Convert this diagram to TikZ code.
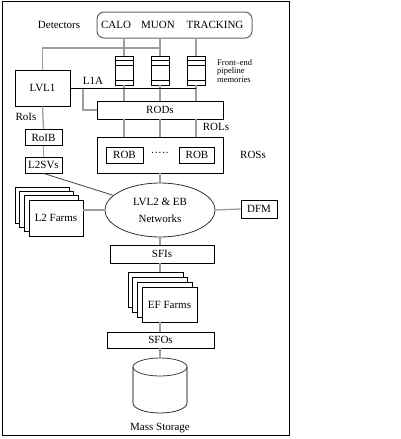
\documentclass[tikz,border=0pt]{standalone}
\usepackage{fontspec}
\setmainfont{Liberation Serif}
\usetikzlibrary{shapes.geometric,calc}
\begin{document}
\begin{tikzpicture}[x=1pt,y=-1pt,
  box/.style={draw=black,line width=0.8pt,fill=white,inner sep=0pt,font=\fontsize{11}{12}\selectfont},
  glink/.style={draw=black!38,line width=1.3pt},
  blink/.style={draw=black,line width=0.8pt},
  lbl/.style={inner sep=0pt,font=\fontsize{11}{12}\selectfont},
  memo/.style={draw=black,line width=0.8pt,fill=white,minimum width=18pt,minimum height=29pt,inner sep=0pt}]
\useasboundingbox (0,0) rectangle (400,439);
\draw[line width=1pt] (2.5,1.5) rectangle (289.5,435.5);

% detectors
\node[draw=black!60,line width=1pt,rounded corners=7pt,minimum width=155pt,minimum height=26pt,inner sep=0pt] (det) at (174.5,25) {};
\node[lbl] (calo) at (116,25) {CALO};
\node[lbl] (muon) at (158,25) {MUON};
\node[lbl] (trk) at (215,25) {TRACKING};
\node[lbl] (detl) at (59,25) {Detectors};

% pipeline memories
\node[memo] (mem1) at (124,70.5) {};
\node[memo] (mem2) at (160,70.5) {};
\node[memo] (mem3) at (196,70.5) {};
\node[inner sep=0pt,anchor=west,align=left,font=\fontsize{8.5}{8.5}\selectfont] (fel) at (217,71) {Front–end\\pipeline\\memories};

% boxes
\node[box,minimum width=55pt,minimum height=36pt] (lvl1) at (42.5,88) {LVL1};
\node[box,minimum width=126pt,minimum height=18pt] (rods) at (160,110) {RODs};
\node[box,minimum width=126pt,minimum height=36pt] (ros) at (160,155) {};
\node[box,minimum width=37pt,minimum height=16pt] (rob1) at (124.5,155) {ROB};
\node[box,minimum width=35pt,minimum height=16pt] (rob2) at (197,155) {ROB};
\node[lbl] (dots) at (160,154) {·····};
\node[box,minimum width=37pt,minimum height=16pt] (roib) at (43.5,137.5) {RoIB};
\node[box,minimum width=37pt,minimum height=16pt] (l2sv) at (43.5,165) {L2SVs};
\node[draw=black!80,line width=0.8pt,ellipse,minimum width=110pt,minimum height=54pt,inner sep=0pt,align=center,font=\fontsize{11}{12}\selectfont] (net) at (160,210) {LVL2 \& EB\\[5pt]Networks};
\node[box,minimum width=36pt,minimum height=18pt] (dfm) at (259,209) {DFM};

% L2 farms stack
\node[box,minimum width=54pt,minimum height=36pt] (l2c) at (42,205) {};
\node[box,minimum width=54pt,minimum height=36pt] (l2b) at (46.7,209.3) {};
\node[box,minimum width=54pt,minimum height=36pt] (l2a) at (51.3,213.7) {};
\node[box,minimum width=54pt,minimum height=36pt] (l2f) at (56,218) {L2 Farms};

\node[box,minimum width=104pt,minimum height=18pt] (sfis) at (162,254) {SFIs};

% EF farms stack
\node[box,minimum width=55pt,minimum height=35pt] (efc) at (155.5,289.5) {};
\node[box,minimum width=55pt,minimum height=35pt] (efb) at (160.2,294.5) {};
\node[box,minimum width=55pt,minimum height=35pt] (efa) at (164.8,299.5) {};
\node[box,minimum width=55pt,minimum height=35pt] (eff) at (169.5,304.5) {EF Farms};

\node[box,minimum width=107pt,minimum height=16pt] (sfos) at (160.5,340) {SFOs};

% labels
\node[lbl] (l1al) at (93,81) {L1A};
\node[lbl] (roisl) at (26,117) {RoIs};
\node[lbl] (rolsl) at (216,127) {ROLs};
\node[lbl] (rossl) at (253,155) {ROSs};
\node[lbl] (msl) at (160,428) {Mass Storage};

% mass storage cylinder
\coordinate (stor) at (160,358);
\draw[black!38,line width=1.3pt] (133,367) -- (133,403) (187,367) -- (187,403);
\draw[black!75,line width=0.8pt] (160,367) ellipse [x radius=27pt,y radius=9pt];
\draw[black!80,line width=0.8pt] (133,403) arc[start angle=180,end angle=360,x radius=27pt,y radius=10pt];

% gray links
\foreach \m in {mem1,mem2,mem3}{
  \draw[glink] (\m.north) -- (\m.north |- det.south);
  \draw[glink] (\m.south) -- (\m.south |- rods.north);
  \draw[glink] (\m.south |- rods.south) -- (\m.south |- ros.north);
}
\coordinate (lvtop) at (160,48);
\draw[glink] (lvl1.north) |- (lvtop);
\coordinate (br) at (83,88);
\draw[glink] (br) |- (rods.west);
\draw[glink] (lvl1.south) -- (roib.north);
\draw[glink] (roib.south) -- (l2sv.north);
\draw[glink] (ros.south -| net.north) -- (net.north);
\draw[glink] (net.east) -- (dfm.west);
\draw[glink] (net.west) -- (net.west -| l2f.east);
\draw[glink] (net.south) -- (net.south |- sfis.north);
\draw[glink] (sfis.south -| net.south) -- (net.south |- efc.north);
\draw[glink] (eff.south -| net.south) -- (net.south |- sfos.north);
\draw[glink] (sfos.south -| stor) -- (stor);

% memory inner lines
\foreach \m in {mem1,mem2,mem3}{
  \draw[line width=0.8pt] ([yshift=-5pt]\m.north west) -- ([yshift=-5pt]\m.north east);
  \draw[line width=0.8pt] ([yshift=-10pt]\m.north west) -- ([yshift=-10pt]\m.north east);
  \draw[line width=0.8pt] ([yshift=5.5pt]\m.south west) -- ([yshift=5.5pt]\m.south east);
}

% black links
\draw[blink] (lvl1.east) -- (lvl1.east -| mem3.south);
\draw[black!75,line width=0.8pt] (l2sv.south) -- (net);
\end{tikzpicture}
\end{document}
